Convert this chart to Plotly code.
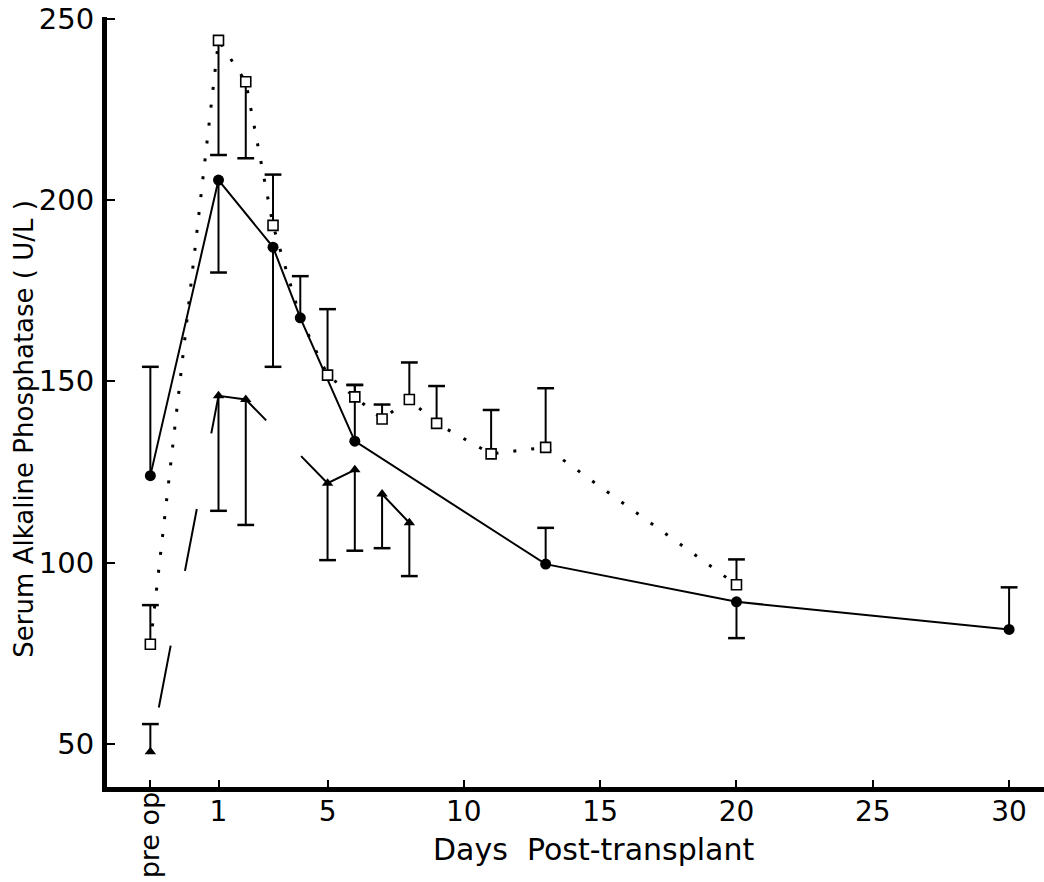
import plotly.graph_objects as go

# ---- data ----
# filled circles, solid line
circle_days = [-1.5, 1, 3, 4, 6, 13, 20, 30]
circle_mean = [124, 205.5, 187, 167.5, 133.5, 99.6, 89.2, 81.6]
circle_err_up = [30, 0, 0, 11.5, 15.5, 10, 0, 11.6]
circle_err_down = [0, 25.5, 33, 0, 0, 0, 10, 0]

# open squares, dotted line (day 4 marker hidden under the circle)
square_days = [-1.5, 1, 2, 3, 4, 5, 6, 7, 8, 9, 11, 13, 20]
square_mean = [77.5, 244, 232.6, 193, 167.5, 151.7, 145.7, 139.6, 145, 138.4, 130, 131.8, 93.9]
square_err_up = [10.8, 0, 0, 14, 0, 18.2, 3.3, 4, 10.2, 10.3, 12.1, 16.3, 7]
square_err_down = [0, 31.6, 21.1, 0, 0, 0, 0, 0, 0, 0, 0, 0, 0]
square_marker_hidden_days = [4]

# filled triangles, broken line
tri_days = [-1.5, 1, 2, 5, 6, 7, 8]
tri_mean = [47.9, 146, 145, 121.9, 125.6, 118.9, 111]
tri_err_up = [7.6, 0, 0, 0, 0, 0, 0]
tri_err_down = [0, 31.7, 34.6, 21.2, 22.3, 14.9, 14.7]

x_tickvals = [-1.5, 1, 5, 10, 15, 20, 25, 30]
x_ticktext = ["", "1", "5", "10", "15", "20", "25", "30"]
preop_label = "pre op"
y_tickvals = [50, 100, 150, 200, 250]
y_ticktext = ["50", "100", "150", "200", "250"]

FONT = "DejaVu Sans"
BLACK = "black"

fig = go.Figure()


def stems(up, down):
    return dict(type="data", symmetric=False, array=up, arrayminus=down,
                color=BLACK, thickness=2, width=0, visible=True)


def caps(days, mean, up, down):
    xs, ys = [], []
    for d, m, u, dn in zip(days, mean, up, down):
        if u:
            xs.append(d); ys.append(m + u)
        if dn:
            xs.append(d); ys.append(m - dn)
    return go.Scatter(x=xs, y=ys, mode="markers", hoverinfo="skip",
                      marker=dict(symbol="line-ew", size=12, color=BLACK,
                                  line=dict(color=BLACK, width=2.5)))


# triangles: broken line
fig.add_trace(go.Scatter(
    x=tri_days, y=tri_mean, mode="lines+markers",
    line=dict(color=BLACK, width=2,
              dash="0px,45px,63px,76px,63px,77px,95px,50px,69px,37px,40px,200px"),
    marker=dict(symbol="triangle-up", size=10, color=BLACK),
    error_y=stems(tri_err_up, tri_err_down)))
fig.add_trace(caps(tri_days, tri_mean, tri_err_up, tri_err_down))

# squares: dotted line
fig.add_trace(go.Scatter(
    x=square_days, y=square_mean, mode="lines",
    line=dict(color=BLACK, width=3, dash="3px,15px"),
    error_y=stems(square_err_up, square_err_down)))
fig.add_trace(caps(square_days, square_mean, square_err_up, square_err_down))

# circles: solid line
fig.add_trace(go.Scatter(
    x=circle_days, y=circle_mean, mode="lines+markers",
    line=dict(color=BLACK, width=2),
    marker=dict(symbol="circle", size=11, color=BLACK),
    error_y=stems(circle_err_up, circle_err_down)))
fig.add_trace(caps(circle_days, circle_mean, circle_err_up, circle_err_down))

# square markers on top
sq_x = [d for d in square_days if d not in square_marker_hidden_days]
sq_y = [m for d, m in zip(square_days, square_mean) if d not in square_marker_hidden_days]
fig.add_trace(go.Scatter(
    x=sq_x, y=sq_y, mode="markers",
    marker=dict(symbol="square", size=10, color="white",
                line=dict(color=BLACK, width=1.6))))

fig.update_layout(
    width=1044, height=882,
    margin=dict(l=107, r=0, t=17, b=95),
    paper_bgcolor="white", plot_bgcolor="white",
    showlegend=False,
    font=dict(family=FONT, color=BLACK),
    xaxis=dict(range=[-3.09, 31.28], showgrid=False, zeroline=False,
               showline=True, linecolor=BLACK, linewidth=5,
               ticks="inside", ticklen=7, tickwidth=2, tickcolor=BLACK,
               tickvals=x_tickvals, ticktext=x_ticktext,
               tickfont=dict(family=FONT, size=28, color=BLACK),
               ticklabelstandoff=-5),
    yaxis=dict(range=[38.15, 250.45], showgrid=False, zeroline=False,
               showline=True, linecolor=BLACK, linewidth=5,
               ticks="inside", ticklen=8, tickwidth=2, tickcolor=BLACK,
               tickvals=y_tickvals, ticktext=y_ticktext,
               tickfont=dict(family=FONT, size=29, color=BLACK),
               ticklabelstandoff=2),
    annotations=[
        dict(text=preop_label, xref="x", yref="paper", x=-1.5, y=-0.0623,
             xanchor="center", yanchor="middle", textangle=-90, showarrow=False,
             font=dict(family=FONT, size=27, color=BLACK)),
        dict(text="Days  Post-transplant", xref="paper", yref="paper",
             x=0.5197, y=-0.0818, xanchor="center", yanchor="middle",
             showarrow=False, font=dict(family=FONT, size=30, color=BLACK)),
        dict(text="Serum Alkaline Phosphatase ( U/L )", xref="paper", yref="paper",
             x=-0.089, y=0.4649, xanchor="center", yanchor="middle",
             textangle=-90, showarrow=False,
             font=dict(family=FONT, size=26, color=BLACK)),
    ],
)

fig.write_html("out.html")
